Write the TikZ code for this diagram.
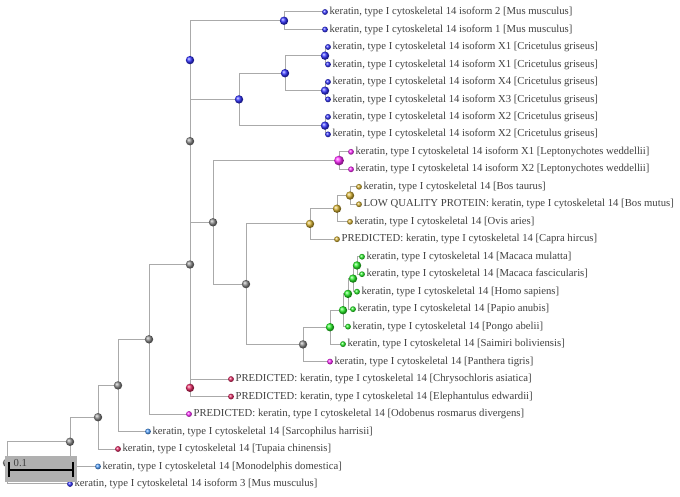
\documentclass[tikz,border=0pt]{standalone}
\usepackage{fontspec}
\setmainfont{Liberation Serif}
\usetikzlibrary{backgrounds}
\definecolor{kblue}{RGB}{50,50,255}
\definecolor{kgrey}{RGB}{140,140,140}
\definecolor{kmag}{RGB}{255,40,255}
\definecolor{kgold}{RGB}{215,178,50}
\definecolor{kgreen}{RGB}{40,240,40}
\definecolor{kcrim}{RGB}{232,40,100}
\definecolor{klblue}{RGB}{80,160,255}
\definecolor{txt}{RGB}{64,64,64}
\definecolor{edgec}{RGB}{170,170,170}
\definecolor{boxc}{RGB}{176,176,176}
\begin{document}
\begin{tikzpicture}[x=1pt,y=-1pt,
  edge/.style={draw=edgec, line width=1pt},
  leafdot/.style={circle, inner sep=0pt, minimum size=5.8pt, ball color=#1},
  innode/.style={circle, inner sep=0pt, minimum size=8.4pt, ball color=#1},
  lbl/.style={anchor=west, inner sep=0pt, font=\fontsize{10.7}{12}\selectfont, text=txt}]
\useasboundingbox (0,0) rectangle (680,497);
% leaves
\foreach \i/\x/\c/\t in {
 0/325/kblue/{keratin, type I cytoskeletal 14 isoform 2 [Mus musculus]},
 1/325/kblue/{keratin, type I cytoskeletal 14 isoform 1 [Mus musculus]},
 2/328/kblue/{keratin, type I cytoskeletal 14 isoform X1 [Cricetulus griseus]},
 3/328/kblue/{keratin, type I cytoskeletal 14 isoform X1 [Cricetulus griseus]},
 4/328/kblue/{keratin, type I cytoskeletal 14 isoform X4 [Cricetulus griseus]},
 5/328/kblue/{keratin, type I cytoskeletal 14 isoform X3 [Cricetulus griseus]},
 6/328/kblue/{keratin, type I cytoskeletal 14 isoform X2 [Cricetulus griseus]},
 7/328/kblue/{keratin, type I cytoskeletal 14 isoform X2 [Cricetulus griseus]},
 8/351/kmag/{keratin, type I cytoskeletal 14 isoform X1 [Leptonychotes weddellii]},
 9/351/kmag/{keratin, type I cytoskeletal 14 isoform X2 [Leptonychotes weddellii]},
 10/359/kgold/{keratin, type I cytoskeletal 14 [Bos taurus]},
 11/359/kgold/{LOW QUALITY PROTEIN: keratin, type I cytoskeletal 14 [Bos mutus]},
 12/350/kgold/{keratin, type I cytoskeletal 14 [Ovis aries]},
 13/337/kgold/{PREDICTED: keratin, type I cytoskeletal 14 [Capra hircus]},
 14/362/kgreen/{keratin, type I cytoskeletal 14 [Macaca mulatta]},
 15/362/kgreen/{keratin, type I cytoskeletal 14 [Macaca fascicularis]},
 16/357/kgreen/{keratin, type I cytoskeletal 14 [Homo sapiens]},
 17/353/kgreen/{keratin, type I cytoskeletal 14 [Papio anubis]},
 18/348/kgreen/{keratin, type I cytoskeletal 14 [Pongo abelii]},
 19/343/kgreen/{keratin, type I cytoskeletal 14 [Saimiri boliviensis]},
 20/330/kmag/{keratin, type I cytoskeletal 14 [Panthera tigris]},
 21/231/kcrim/{PREDICTED: keratin, type I cytoskeletal 14 [Chrysochloris asiatica]},
 22/231/kcrim/{PREDICTED: keratin, type I cytoskeletal 14 [Elephantulus edwardii]},
 23/189/kmag/{PREDICTED: keratin, type I cytoskeletal 14 [Odobenus rosmarus divergens]},
 24/148/klblue/{keratin, type I cytoskeletal 14 [Sarcophilus harrisii]},
 25/118/kcrim/{keratin, type I cytoskeletal 14 [Tupaia chinensis]},
 26/98/klblue/{keratin, type I cytoskeletal 14 [Monodelphis domestica]},
 27/70/kblue/{keratin, type I cytoskeletal 14 isoform 3 [Mus musculus]}}
{
  \pgfmathsetmacro\yy{12+17.48*\i}
  \node[leafdot=\c] (l\i) at (\x,\yy) {};
  \node[lbl] (t\i) at ([xshift=1.3pt]l\i.east) {\t};
}
% internal nodes
\foreach \n/\x/\y/\c in {
 A/284/20.75/kblue, Ca/325/55.7/kblue, Cb/325/90.65/kblue, C/285/73.2/kblue,
 D/325/125.65/kblue, B/239/99.4/kblue, E/190/60.1/kblue,
 R/350/195.55/kgold, Q/337/208.7/kgold, O/310/223.9/kgold,
 W/357/265.45/kgreen, V/353/278.6/kgreen, U/348/293.9/kgreen, T/343/310.2/kgreen, S/330/327.2/kgreen,
 P/303/344.4/kgrey, N/246/284.1/kgrey, G/213/222.3/kgrey, F/190/141.2/kgrey,
 X/190/387.85/kcrim, H/190/264.5/kgrey, I/149/339.3/kgrey, J/118/385.4/kgrey,
 K/98/417.2/kgrey, L/70/441.8/kgrey, root/7/462.9/kgrey}
{ \node[innode=\c] (\n) at (\x,\y) {}; }
\node[innode=kmag, minimum size=9.8pt] (M) at (339,160.55) {};
% edges
\begin{scope}[on background layer]
\foreach \p/\q in {A/l0, A/l1, Ca/l2, Ca/l3, Cb/l4, Cb/l5, C/Ca, C/Cb, D/l6, D/l7,
  B/C, B/D, E/A, E/B, M/l8, M/l9, R/l10, R/l11, Q/R, Q/l12, O/Q, O/l13,
  W/l14, W/l15, V/W, V/l16, U/V, U/l17, T/U, T/l18, S/T, S/l19, P/S, P/l20,
  N/O, N/P, G/M, G/N, F/E, F/G, X/l21, X/l22, H/F, H/X, I/H, I/l23,
  J/I, J/l24, K/J, K/l25, L/K, L/l26, root/L, root/l27}
{ \draw[edge] (\p.center) |- (\q.center); }
\end{scope}
% scale bar
\node[draw=none, fill=boxc, minimum width=72pt, minimum height=26pt, inner sep=0pt, anchor=north west] (sbox) at (5,456) {};
\coordinate (sa) at (9,469.5);
\coordinate (sb) at (73,469.5);
\draw[black, line width=2pt] (sa) -- (sb);
\draw[black, line width=1.6pt] ([yshift=-7.5pt]sa) -- ([yshift=7.5pt]sa);
\draw[black, line width=1.6pt] ([yshift=-7.5pt]sb) -- ([yshift=7.5pt]sb);
\node[lbl, text=txt] (slbl) at (13.5,463) {0.1};
\end{tikzpicture}
\end{document}
